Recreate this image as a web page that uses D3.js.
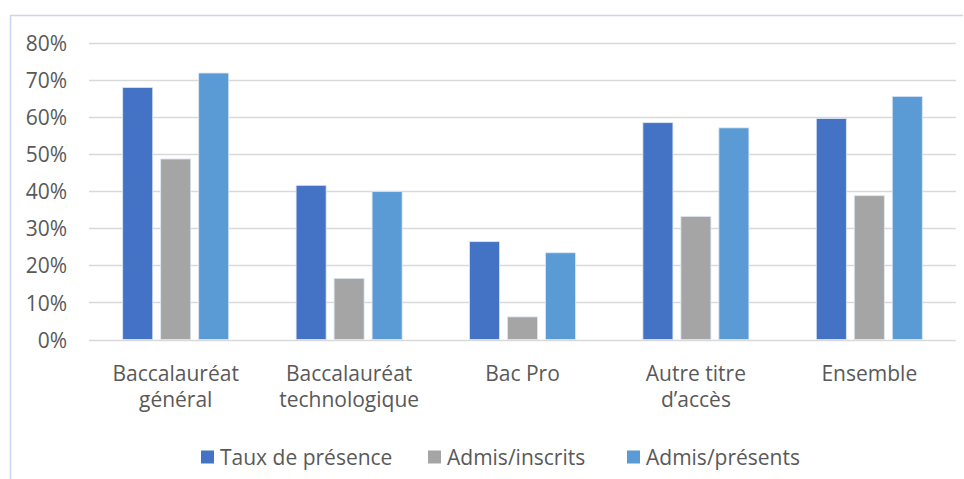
<!DOCTYPE html>
<html>
<head>
<meta charset="utf-8">
<script src="https://cdn.jsdelivr.net/npm/d3@7"></script>
<style>
  html, body { margin: 0; padding: 0; background: #fff; }
  svg text { font-family: "Open Sans", sans-serif; fill: #595959; }
</style>
</head>
<body>
<svg id="chart" width="964" height="479"></svg>
<script>
// Categories (two-line labels) and series values, in %
const categories = ["Baccalauréat général", "Baccalauréat technologique", "Bac Pro", "Autre titre d’accès", "Ensemble"];
const categoryLines = [["Baccalauréat", "général"], ["Baccalauréat", "technologique"], ["Bac Pro"], ["Autre titre", "d’accès"], ["Ensemble"]];
const seriesNames = ["Taux de présence", "Admis/inscrits", "Admis/présents"];
const tauxPresence = [68.0, 41.6, 26.4, 58.5, 59.6];
const admisInscrits = [48.7, 16.5, 6.1, 33.2, 38.8];
const admisPresents = [71.9, 39.9, 23.4, 57.1, 65.6];
const seriesColors = ["#4472C4", "#A5A5A5", "#5B9BD5"];
const yTicks = [0, 10, 20, 30, 40, 50, 60, 70, 80];

const seriesValues = [tauxPresence, admisInscrits, admisPresents];

const svg = d3.select("#chart");

// outer frame
svg.append("path")
  .attr("d", "M10.5,479 L10.5,15.5 L963,15.5")
  .attr("fill", "none")
  .attr("stroke", "#c6d6f0")
  .attr("stroke-width", 1.5);

const plot = { left: 89, right: 956, top: 43, bottom: 339.5 };

const y = d3.scaleLinear().domain([0, 80]).range([plot.bottom, plot.top]);
const x0 = d3.scaleBand().domain(categories).range([plot.left, plot.right]);
const x1 = d3.scaleBand().domain(seriesNames).range([-53, 53]).paddingInner(0.21);

// horizontal gridlines
svg.append("g")
  .selectAll("line")
  .data(yTicks)
  .join("line")
  .attr("x1", plot.left)
  .attr("x2", plot.right)
  .attr("y1", d => Math.round(y(d)) + 0.5)
  .attr("y2", d => Math.round(y(d)) + 0.5)
  .attr("stroke", "#d9d9d9")
  .attr("stroke-width", 1.5);

// y axis labels
const yAxis = d3.axisLeft(y).tickValues(yTicks).tickFormat(d => d + "%").tickSize(0).tickPadding(0);
const gy = svg.append("g").attr("transform", `translate(67,0)`).call(yAxis);
gy.select(".domain").remove();
gy.selectAll("text")
  .attr("font-size", 21)
  .attr("dy", "0.36em")
  .style("font-family", "'Open Sans', sans-serif")
  .attr("fill", "#595959");

// bars
const groups = svg.append("g")
  .selectAll("g")
  .data(categories)
  .join("g")
  .attr("transform", d => `translate(${x0(d) + x0.bandwidth() / 2},0)`);

groups.selectAll("rect")
  .data((c, i) => seriesNames.map((s, j) => ({ s, j, v: seriesValues[j][i] })))
  .join("rect")
  .attr("x", d => x1(d.s))
  .attr("width", x1.bandwidth())
  .attr("y", d => y(d.v))
  .attr("height", d => plot.bottom - y(d.v))
  .attr("fill", d => seriesColors[d.j])
  .attr("stroke", "#dbe6f5")
  .attr("stroke-width", 0.8);

// x category labels
const xAxis = d3.axisBottom(x0).tickSize(0).tickFormat(() => "");
const gx = svg.append("g").attr("transform", `translate(0,${plot.bottom})`).call(xAxis);
gx.select(".domain").remove();
gx.selectAll(".tick").each(function(d, i) {
  const t = d3.select(this).select("text")
    .attr("y", 0).attr("dy", null)
    .attr("font-size", 21)
    .style("font-family", "'Open Sans', sans-serif")
    .attr("fill", "#595959");
  t.selectAll("tspan")
    .data(categoryLines[i])
    .join("tspan")
    .attr("x", 0)
    .attr("y", (l, k) => 41.5 + k * 26)
    .text(l => l);
});

// legend
const legendX = [201, 428, 627];
const legend = svg.append("g")
  .selectAll("g")
  .data(seriesNames)
  .join("g")
  .attr("transform", (d, i) => `translate(${legendX[i]},457)`);
legend.append("rect")
  .attr("x", 0).attr("y", -6.5)
  .attr("width", 13).attr("height", 13)
  .attr("fill", (d, i) => seriesColors[i]);
legend.append("text")
  .attr("x", 19)
  .attr("dy", "0.36em")
  .attr("font-size", 21)
  .text(d => d);
</script>
</body>
</html>
